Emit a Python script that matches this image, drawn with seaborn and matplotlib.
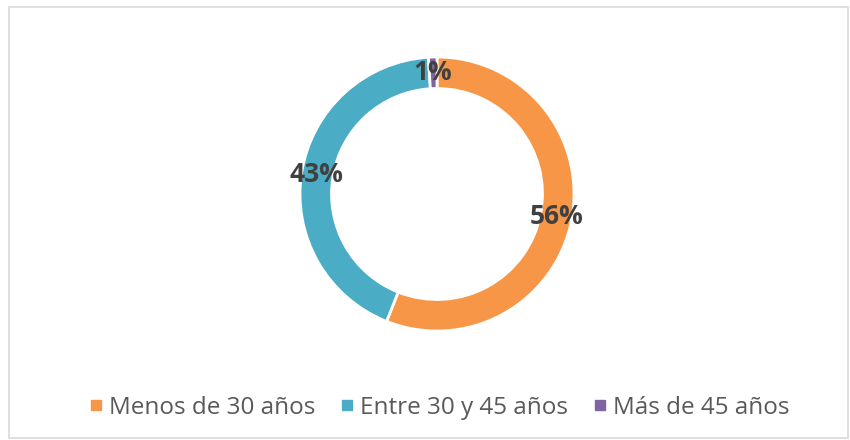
import matplotlib
matplotlib.use("Agg")
import matplotlib.pyplot as plt
import matplotlib.patches as mpatches
from matplotlib.lines import Line2D
import seaborn as sns

# datos
categorias = ["Menos de 30 años", "Entre 30 y 45 años", "Más de 45 años"]
porcentajes = [56, 43, 1]
colores = ["#F79646", "#4BACC6", "#8064A2"]

sns.set_theme(style="white")
plt.rcParams['font.family'] = ['Open Sans', 'DejaVu Sans']

fig = plt.figure(figsize=(8.5, 4.4), dpi=100)
fig.patch.set_facecolor("white")

# marco gris del grafico
fig.add_artist(mpatches.Rectangle((9 / 850, 0.004), 839 / 850, (440 - 7) / 440 - 0.004,
                                  transform=fig.transFigure, fill=False,
                                  edgecolor="#D9D9D9", linewidth=1.2))

ax = fig.add_axes([(437 - 137) / 850, (440 - 331) / 440, 274 / 850, 274 / 440])
wedges, textos, autotextos = ax.pie(
    porcentajes, colors=colores, startangle=90, counterclock=False,
    autopct=lambda p: f"{p:.0f}%", pctdistance=0.89,
    wedgeprops=dict(width=0.23, edgecolor="white", linewidth=2),
    textprops=dict(color="#404040", fontsize=19, fontweight="bold"))
ax.set_xlim(-1, 1)
ax.set_ylim(-1, 1)
ax.set_aspect("equal")

handles = [Line2D([0], [0], marker="s", linestyle="", markersize=7,
                  markerfacecolor=c, markeredgecolor=c) for c in colores]
leg = fig.legend(handles, categorias, loc="center", bbox_to_anchor=(0.515, 0.073),
                 ncol=3, frameon=False, fontsize=17.5, handletextpad=0.15,
                 columnspacing=0.9, handlelength=0.8)
for t in leg.get_texts():
    t.set_color("#595959")

fig.savefig("out.png", dpi=100, facecolor="white")
